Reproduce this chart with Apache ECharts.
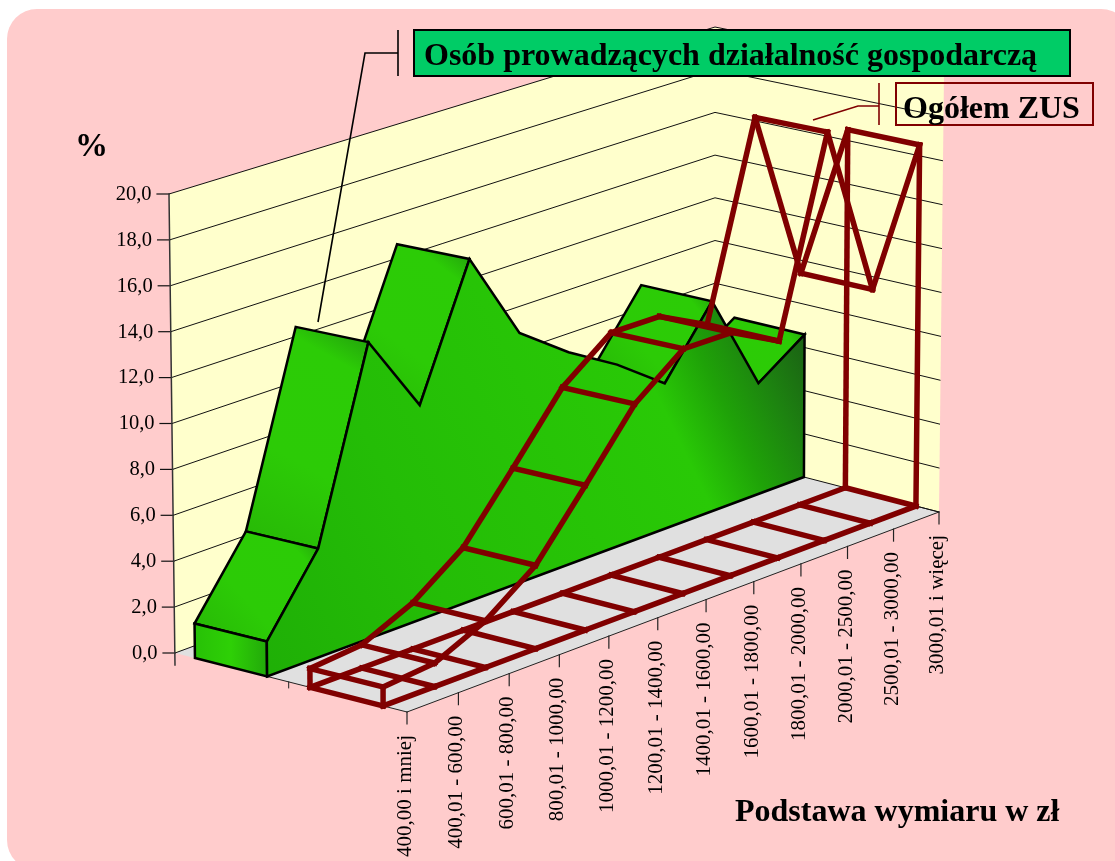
<!DOCTYPE html>
<html>
<head>
<meta charset="utf-8">
<title>Osob prowadzacych dzialalnosc gospodarcza</title>
<script src="https://cdn.jsdelivr.net/npm/echarts@6/dist/echarts.min.js"></script>
<style>
html,body{margin:0;padding:0;background:#fff;}
#chart{width:1115px;height:861px;}
</style>
</head>
<body>
<div id="chart"></div>
<script>
var categories = ['400,00 i mniej','400,01 - 600,00','600,01 - 800,00','800,01 - 1000,00','1000,01 - 1200,00','1200,01 - 1400,00','1400,01 - 1600,00','1600,01 - 1800,00','1800,01 - 2000,00','2000,01 - 2500,00','2500,01 - 3000,00','3000,01 i więcej'];
var greenValues = [1.5,4.7,12.9,9.4,15.1,11.1,9.5,8.2,6.6,9.6,5.1,6.6];
var redValues = [0.8,1.0,2.0,3.6,6.3,9.1,10.8,10.8,9.7,18.4,10.6,16.5];
var valueTicks = [0,2,4,6,8,10,12,14,16,18,20];
var depthTicks = [0,0.49];

var FONT = '"Liberation Serif","Times New Roman",serif';
var GREEN_BACK = 0.086, GREEN_FRONT = 0.397, RED_BACK = 0.582, RED_FRONT = 0.897;
var gridLeft = 170, gridTop = 194, gridWidth = 545, gridHeight = 459;
// corners of the 3d box on screen: [left/right][back/front][floor/top]
var LBF = [175,653], RBF = [715,454], LFF = [407,712], RFF = [939,512];
var LBT = [169,194], RBT = [715,27], LFT = [406,237], RFT = [944,73];
var PERSP = 0.07;

function mix(a,b,t){
	return [a[0]+(b[0]-a[0])*t, a[1]+(b[1]-a[1])*t];
}
function project(u,d,h){
	var f = u*(1+PERSP)/(1+PERSP*u);
	var floor = mix(mix(LBF,RBF,f),mix(LFF,RFF,f),d);
	var top = mix(mix(LBT,RBT,f),mix(LFT,RFT,f),d);
	return mix(floor,top,h);
}
// goes through the (hidden) axes, then through the box
function toScreen(api,cat,val,d){
	var c = api.coord([cat,val]);
	return project((c[0]-gridLeft)/gridWidth, d, (gridTop+gridHeight-c[1])/gridHeight);
}
function pairs(values){
	return values.map(function(v,i){ return [i,v]; });
}
function line(a,b,color,width){
	return {type:'line',shape:{x1:a[0],y1:a[1],x2:b[0],y2:b[1]},style:{stroke:color,lineWidth:width,lineCap:'square'}};
}
function poly(pts,fill,stroke,width){
	return {type:'polygon',shape:{points:pts},style:{fill:fill,stroke:stroke,lineWidth:width,lineJoin:'miter'}};
}

function renderWalls(params,api){
	var last = categories.length-1;
	return {type:'group',children:[
		poly([toScreen(api,0,0,0),toScreen(api,last,0,0),toScreen(api,last,20,0),toScreen(api,0,20,0)],'#ffffcc',null,0),
		poly([toScreen(api,last,0,0),toScreen(api,last,0,1),toScreen(api,last,20,1),toScreen(api,last,20,0)],'#ffffcc',null,0),
		poly([toScreen(api,0,0,0),toScreen(api,0,0,1),toScreen(api,last,0,1),toScreen(api,last,0,0)],'#e0e0e0',null,0),
		line(toScreen(api,0,0,0.39),toScreen(api,0,0,1),'#222',1),
		line(toScreen(api,0,0,1),toScreen(api,last,0,1),'#222',1),
		line(toScreen(api,last,0,1),toScreen(api,last,0,0.9),'#222',1)
	]};
}
function renderGrid(params,api){
	var v = api.value(1), last = categories.length-1;
	var a = toScreen(api,0,v,0), b = toScreen(api,last,v,0), c = toScreen(api,last,v,1);
	return {type:'group',children:[
		{type:'polyline',shape:{points:[a,b,c]},style:{stroke:'#111',lineWidth:1,fill:null}},
		line([a[0]-12,a[1]],a,'#111',1.2),
		{type:'text',x:a[0]-17.5,y:a[1]+0.5,style:{text:v.toFixed(1).replace('.',','),align:'right',verticalAlign:'middle',font:'20.5px '+FONT,fill:'#000'}}
	]};
}
function renderValueAxis(params,api){
	var a = toScreen(api,0,0,0), b = toScreen(api,0,20,0);
	return {type:'group',children:[line(b,[a[0],a[1]+12],'#333',1.5)]};
}
function renderCatTicks(params,api){
	var i = api.value(0), p = toScreen(api,i,0,1);
	return {type:'group',children:[
		line(p,[p[0],p[1]+12],'#222',1.2),
		{type:'text',x:p[0]-1.5,y:p[1]+23,rotation:Math.PI/2,style:{text:categories[i],align:'right',verticalAlign:'middle',font:'21px '+FONT,fill:'#000'}}
	]};
}
function renderDepthTicks(params,api){
	var p = toScreen(api,0,0,api.value(1));
	return line(p,[p[0],p[1]+(api.value(1)>0?6:0)],'#222',1);
}
// green ribbon: only the faces that look at the viewer, from the far end to the near end
function renderRibbon(params,api){
	var i = categories.length-2-params.dataIndex;
	var b0 = toScreen(api,i,greenValues[i],GREEN_BACK), f0 = toScreen(api,i,greenValues[i],GREEN_FRONT);
	var b1 = toScreen(api,i+1,greenValues[i+1],GREEN_BACK), f1 = toScreen(api,i+1,greenValues[i+1],GREEN_FRONT);
	var cross = (f0[0]-b0[0])*(b1[1]-b0[1])-(f0[1]-b0[1])*(b1[0]-b0[0]);
	if(cross>0) return null;
	var fill = new echarts.graphic.LinearGradient(0,1,1,0,[
		{offset:0,color:'#27b706'},{offset:0.4,color:'#2ccb06'},{offset:0.82,color:'#2ccc06'},{offset:1,color:'#21960f'}
	]);
	return poly([b0,f0,f1,b1],fill,'#000',2.5);
}
function renderGreenFront(params,api){
	if(params.dataIndex>0) return null;
	var pts = [], n = categories.length;
	for(var i=0;i<n;i++) pts.push(toScreen(api,i,greenValues[i],GREEN_FRONT));
	pts.push(toScreen(api,n-1,0,GREEN_FRONT));
	pts.push(toScreen(api,0,0,GREEN_FRONT));
	var fill = new echarts.graphic.LinearGradient(268,660,827,390,[
		{offset:0,color:'#1fb006'},{offset:0.3,color:'#24bd06'},{offset:0.75,color:'#29c906'},
		{offset:0.84,color:'#1fa208'},{offset:0.92,color:'#1d8310'},{offset:1,color:'#1b6314'}
	],true);
	var bl = toScreen(api,0,0,GREEN_BACK), tl = toScreen(api,0,greenValues[0],GREEN_BACK);
	var br = toScreen(api,0,0,GREEN_FRONT), tr = toScreen(api,0,greenValues[0],GREEN_FRONT);
	var cap = new echarts.graphic.LinearGradient(0,0,1,0,[
		{offset:0,color:'#27c006'},{offset:0.5,color:'#2ed006'},{offset:1,color:'#22a80a'}
	]);
	return {type:'group',children:[
		poly([tl,tr,br,bl],cap,'#000',2.5),
		poly(pts,fill,'#000',2.5)
	]};
}
// wire frame, nothing filled
function renderRedWire(params,api){
	var i = api.value(0), v = api.value(1), last = categories.length-1;
	var RED = '#800000', W = 5.5, kids = [];
	var b = toScreen(api,i,v,RED_BACK), f = toScreen(api,i,v,RED_FRONT);
	var fb = toScreen(api,i,0,RED_BACK), ff = toScreen(api,i,0,RED_FRONT);
	kids.push(line(b,f,RED,W));
	kids.push(line(fb,ff,RED,W));
	if(i<last){
		var b2 = toScreen(api,i+1,redValues[i+1],RED_BACK), f2 = toScreen(api,i+1,redValues[i+1],RED_FRONT);
		kids.push(line(b,b2,RED,W));
		kids.push(line(f,f2,RED,W));
		kids.push(line(fb,toScreen(api,i+1,0,RED_BACK),RED,W));
		kids.push(line(ff,toScreen(api,i+1,0,RED_FRONT),RED,W));
	}
	if(i===0||i===last){
		kids.push(line(b,fb,RED,W));
		kids.push(line(f,ff,RED,W));
	}
	return {type:'group',children:kids};
}

function customSeries(name,data,fn,z){
	return {name:name,type:'custom',data:data,renderItem:fn,z:z,clip:false,silent:true,encode:{x:0,y:1}};
}

var myChart = echarts.init(document.getElementById('chart'),null,{renderer:'canvas'});
var option = {
	animation:false,
	backgroundColor:'#ffffff',
	tooltip:{show:false},
	grid:{left:gridLeft,top:gridTop,width:gridWidth,height:gridHeight},
	xAxis:{type:'category',show:false,boundaryGap:false,data:categories},
	yAxis:{type:'value',show:false,min:0,max:20,interval:2},
	graphic:{elements:[
		{type:'rect',z:-100,silent:true,shape:{x:7,y:9,width:1124,height:861,r:30},style:{fill:'#ffcccc'}},
		// opis serii zielonej
		{type:'polyline',z:50,silent:true,shape:{points:[[318,322],[365,53],[398,53]]},style:{stroke:'#000',lineWidth:1.6,fill:null}},
		{type:'line',z:50,silent:true,shape:{x1:398,y1:30,x2:398,y2:76},style:{stroke:'#000',lineWidth:1.6}},
		{type:'rect',z:50,silent:true,shape:{x:414,y:30,width:656,height:46},style:{fill:'#00cc66',stroke:'#000',lineWidth:2}},
		{type:'text',z:51,silent:true,x:424,y:57,style:{text:'Osób prowadzących działalność gospodarczą',align:'left',verticalAlign:'middle',font:'bold 32px '+FONT,fill:'#000'}},
		// opis serii czerwonej
		{type:'polyline',z:50,silent:true,shape:{points:[[813,120],[858,106],[879,106]]},style:{stroke:'#800000',lineWidth:1.6,fill:null}},
		{type:'line',z:50,silent:true,shape:{x1:879,y1:83,x2:879,y2:125},style:{stroke:'#800000',lineWidth:1.6}},
		{type:'rect',z:50,silent:true,shape:{x:896,y:83,width:197,height:42},style:{fill:'transparent',stroke:'#800000',lineWidth:2}},
		{type:'text',z:51,silent:true,x:903,y:110,style:{text:'Ogółem ZUS',align:'left',verticalAlign:'middle',font:'bold 32px '+FONT,fill:'#000'}},
		{type:'text',z:51,silent:true,x:75,y:147,style:{text:'%',align:'left',verticalAlign:'middle',font:'bold 33px '+FONT,fill:'#000'}},
		{type:'text',z:51,silent:true,x:735,y:813,style:{text:'Podstawa wymiaru w zł',align:'left',verticalAlign:'middle',font:'bold 32px '+FONT,fill:'#000'}}
	]},
	series:[
		customSeries('walls',[[0,0]],renderWalls,1),
		customSeries('gridlines',valueTicks.map(function(v){ return [0,v]; }),renderGrid,2),
		customSeries('valueAxis',[[0,0]],renderValueAxis,3),
		customSeries('catTicks',categories.map(function(c,i){ return [i,0]; }),renderCatTicks,3),
		customSeries('depthTicks',depthTicks.map(function(d){ return [0,d]; }),renderDepthTicks,3),
		customSeries('Osób prowadzących działalność gospodarczą - top',pairs(greenValues.slice(1)),renderRibbon,4),
		customSeries('Osób prowadzących działalność gospodarczą',pairs(greenValues),renderGreenFront,5),
		customSeries('Ogółem ZUS',pairs(redValues),renderRedWire,6)
	]
};
myChart.setOption(option);
</script>
</body>
</html>
